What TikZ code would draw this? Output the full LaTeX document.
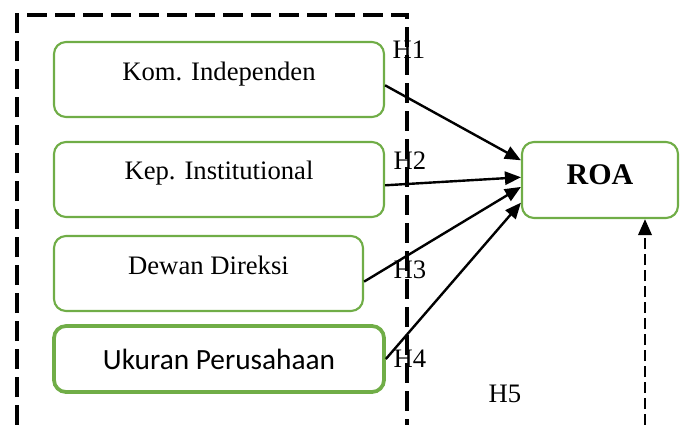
\documentclass[tikz,border=0pt]{standalone}
\usepackage{fontspec}
\setmainfont{Liberation Serif}
\newfontfamily\calibrifont{Carlito}
\usepackage{xcolor}
\usetikzlibrary{arrows.meta, calc, positioning}
\definecolor{BoxGreen}{RGB}{112,173,71}
\tikzset{
    varbox/.style={draw=BoxGreen, line width=1.6pt, rounded corners=9pt, minimum height=56.25pt},
    myarrow/.style={-{Triangle[length=12pt,width=10pt]}, line width=1.8pt}
}

\begin{document}
\begin{tikzpicture}[x=0.75pt,y=-0.75pt]
\tikzset{
    mytext/.style={font=\fontsize{20}{24}\selectfont},
    hlabel/.style={font=\fontsize{20}{24}\selectfont, inner sep=0pt}
}
  \useasboundingbox (0,0) rectangle (683,425);

  % frame round the governance variables
  \draw[line width=2.5pt, dash pattern=on 15pt off 6pt] (17,425) -- (17,15) -- (407,15) -- (407,425);

  \node[varbox, minimum width=247.5pt, label={[mytext, yshift=4.2pt]center:Kom. Independen}] (kom) at (219,79.5) {};
  \node[varbox, minimum width=247.5pt, label={[mytext, yshift=4.5pt]center:Kep. Institutional}] (kep) at (219,179.5) {};
  \node[varbox, minimum width=231.75pt, label={[mytext, yshift=6.4pt]center:Dewan Direksi}] (dewan) at (208.5,273.5) {};
  \node[varbox, line width=2.8pt, minimum width=247.5pt, minimum height=49.5pt, font=\calibrifont\fontsize{22}{26}\selectfont] (ukuran) at (219,359) {Ukuran Perusahaan};
  \node[varbox, minimum width=117pt, minimum height=57pt, label={[font=\fontsize{22.5}{26}\selectfont\bfseries, yshift=3.7pt]center:ROA}] (roa) at (600,180) {};

  \draw[myarrow] (kom.-2.6) -- (roa.166);
  \draw[myarrow] (kep.-2.3) -- (roa.178);
  \draw[myarrow] (dewan.-3.5) -- (roa.185);
  \draw[myarrow] (ukuran.0.7) -- (roa.196);

  \coordinate (h5src) at (645,425);
  \draw[line width=2pt, dash pattern=on 8pt off 4pt, -{Triangle[length=12pt,width=10pt]}] (h5src) -- (h5src |- roa.south);

  \node[hlabel] (h1) at (409,50) {H1};
  \node[hlabel] (h2) at (410,161) {H2};
  \node[hlabel] (h3) at (410,270) {H3};
  \node[hlabel] (h4) at (410,359) {H4};
  \node[hlabel] (h5) at (505,394) {H5};
\end{tikzpicture}
\end{document}
